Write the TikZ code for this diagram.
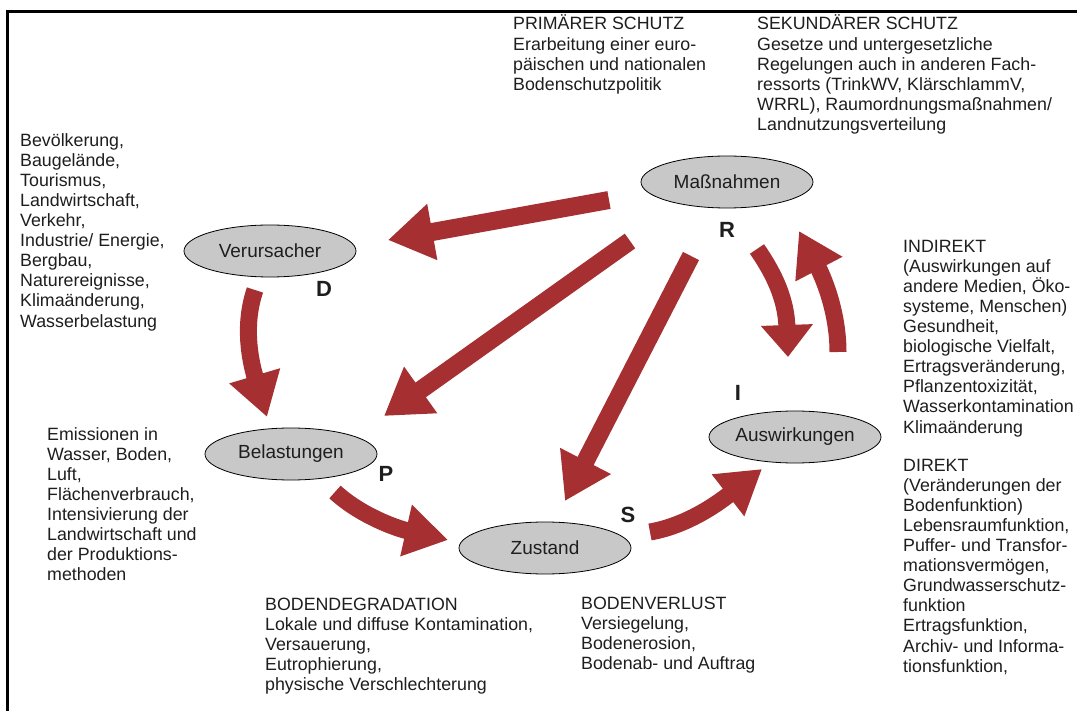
\documentclass[tikz,border=0pt]{standalone}
\usepackage{fontspec}
\setmainfont{Liberation Sans}
\usetikzlibrary{arrows.meta,shapes.geometric}
\definecolor{arrowred}{RGB}{165,47,49}
\definecolor{ellgray}{RGB}{200,200,200}
\definecolor{txt}{RGB}{30,30,30}
\tikzset{
  stage/.style={ellipse, draw=black, line width=0.8pt, fill=ellgray,
    minimum width=172pt, minimum height=52pt, inner sep=0pt,
    font=\fontsize{19}{22}\selectfont, text=txt},
  info/.style={anchor=north west, align=left, inner sep=0pt,
    font=\fontsize{17.8}{20.1}\selectfont, text=txt},
  letter/.style={font=\fontsize{22}{26}\selectfont\bfseries, text=txt, inner sep=0pt},
  flow/.style={draw=arrowred, line width=18pt, -{Triangle[width=54pt,length=45pt]}},
  flowc/.style={draw=arrowred, line width=17pt, -{Triangle[width=50pt,length=43pt]}},
  flowshort/.style={draw=arrowred, line width=17pt, -{Triangle[width=50pt,length=32pt]}},
  frame/.style={draw=black, line width=2.7pt},
}
\begin{document}
\begin{tikzpicture}[x=1pt,y=-1pt]
\useasboundingbox (0,0) rectangle (1077,711);
\fill[white] (0,0) rectangle (1077,711);
% frame
\coordinate (fbl) at (7.5,711);
\coordinate (ftl) at (7.5,11.3);
\coordinate (ftr) at (1077,11.3);
\draw[frame] (fbl) -- (ftl) -- (ftr);

% stages
\node[stage] (mass) at (727,182) {Maßnahmen};
\node[stage] (verur) at (270,251) {Verursacher};
\node[stage] (belast) at (291,454) {Belastungen};
\node[stage] (zust) at (545,548) {Zustand};
\node[stage] (ausw) at (795,437) {Auswirkungen};

% letters
\node[letter] (lR) at (727,230) {R};
\node[letter] (lD) at (324,289) {D};
\node[letter] (lP) at (386,474) {P};
\node[letter] (lS) at (628,515) {S};
\node[letter] (lI) at (738,393) {I};

% texts
\node[info] (prim) at (513,14.9) {\strut PRIMÄRER SCHUTZ\\Erarbeitung einer euro-\\päischen und nationalen\\Bodenschutzpolitik};
\node[info] (sek) at (757,14.9) {\strut SEKUNDÄRER SCHUTZ\\Gesetze und untergesetzliche\\Regelungen auch in anderen Fach-\\ressorts (TrinkWV, KlärschlammV,\\WRRL), Raumordnungsmaßnahmen/\\Landnutzungsverteilung};
\node[info] (bev) at (20,131.9) {\strut Bevölkerung,\\Baugelände,\\Tourismus,\\Landwirtschaft,\\Verkehr,\\Industrie/ Energie,\\Bergbau,\\Naturereignisse,\\Klimaänderung,\\Wasserbelastung};
\node[info] (emis) at (47,425.9) {\strut Emissionen in\\Wasser, Boden,\\Luft,\\Flächenverbrauch,\\Intensivierung der\\Landwirtschaft und\\der Produktions-\\methoden};
\node[info] (bdeg) at (265,595.9) {\strut BODENDEGRADATION\\Lokale und diffuse Kontamination,\\Versauerung,\\Eutrophierung,\\physische Verschlechterung};
\node[info] (bverl) at (581,594.9) {\strut BODENVERLUST\\Versiegelung,\\Bodenerosion,\\Bodenab- und Auftrag};
\node[info] (indir) at (903,237.9) {\strut INDIREKT\\(Auswirkungen auf\\andere Medien, Öko-\\systeme, Menschen)\\Gesundheit,\\biologische Vielfalt,\\Ertragsveränderung,\\Pflanzentoxizität,\\Wasserkontamination\\Klimaänderung};
\node[info] (dir) at (903,456.9) {\strut DIREKT\\(Veränderungen der\\Bodenfunktion)\\Lebensraumfunktion,\\Puffer- und Transfor-\\mationsvermögen,\\Grundwasserschutz-\\funktion\\Ertragsfunktion,\\Archiv- und Informa-\\tionsfunktion,};

% arrow end points
\coordinate (a1s) at (609,200); \coordinate (a1e) at (388,240);
\coordinate (a2s) at (630,241); \coordinate (a2e) at (384,416);
\coordinate (a3s) at (691,256); \coordinate (a3e) at (565,501);
\coordinate (a4s) at (757,249); \coordinate (a4e) at (788,357);
\coordinate (a5s) at (838,352); \coordinate (a5e) at (799,231);
\coordinate (a6s) at (255,290); \coordinate (a6e) at (267,417);
\coordinate (a7s) at (335,492); \coordinate (a7e) at (448,540);
\coordinate (a8s) at (650,532); \coordinate (a8e) at (762,469);

\draw[flow] (a1s) -- (a1e);
\draw[flow] (a2s) -- (a2e);
\draw[flow] (a3s) -- (a3e);
\draw[flowshort] (a4s) .. controls (775,275) and (786,300) .. (a4e);
\draw[flowc] (a5s) .. controls (838,310) and (822,275) .. (a5e);
\draw[flowc] (a6s) .. controls (243,325) and (250,360) .. (a6e);
\draw[flowc] (a7s) .. controls (360,515) and (395,528) .. (a7e);
\draw[flowc] (a8s) .. controls (690,525) and (722,500) .. (a8e);
\end{tikzpicture}
\end{document}
